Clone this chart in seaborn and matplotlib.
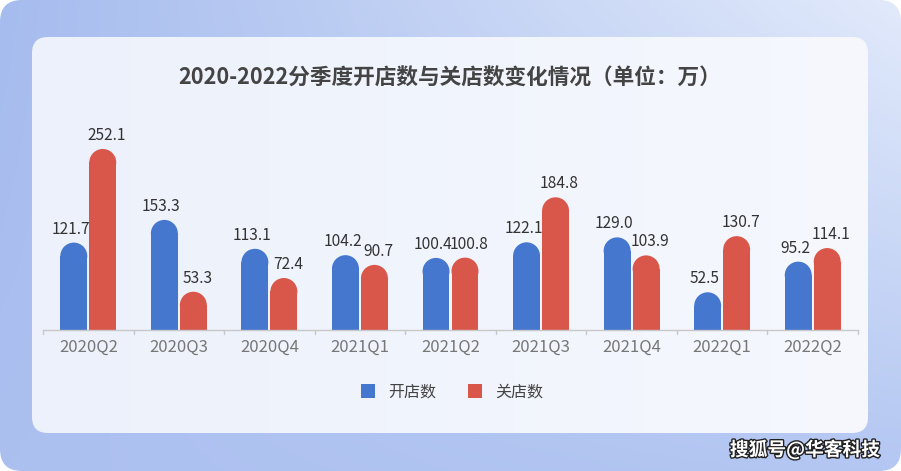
import numpy as np
import pandas as pd
import matplotlib
matplotlib.use("Agg")
import matplotlib.pyplot as plt
import seaborn as sns
from matplotlib.patches import FancyBboxPatch, Ellipse, Patch
import matplotlib.patheffects as pe

quarters = ['2020Q2', '2020Q3', '2020Q4', '2021Q1', '2021Q2', '2021Q3', '2021Q4', '2022Q1', '2022Q2']
open_vals = [121.7, 153.3, 113.1, 104.2, 100.4, 122.1, 129.0, 52.5, 95.2]
close_vals = [252.1, 53.3, 72.4, 90.7, 100.8, 184.8, 103.9, 130.7, 114.1]
series_names = ['开店数', '关店数']
title = '2020-2022分季度开店数与关店数变化情况（单位：万）'
watermark = '搜狐号@华客科技'

colors = ['#4677cf', '#d9574a']

df = pd.DataFrame({
    'quarter': quarters * 2,
    'value': open_vals + close_vals,
    'series': [series_names[0]] * len(quarters) + [series_names[1]] * len(quarters),
})

sns.set_theme(style='white')
plt.rcParams['font.family'] = ['Noto Sans CJK SC', 'DejaVu Sans']

W, H = 901, 471
fig = plt.figure(figsize=(W / 100, H / 100), dpi=100)
fig.patch.set_facecolor('white')

# background axes in pixel coords
bg = fig.add_axes([0, 0, 1, 1])
bg.set_xlim(0, W)
bg.set_ylim(H, 0)
bg.axis('off')

yy, xx = np.mgrid[0:1:H * 1j, 0:1:W * 1j]
tl = np.array([166, 188, 238]) / 255
tr = np.array([226, 234, 251]) / 255
bl = np.array([172, 192, 240]) / 255
br = np.array([180, 199, 242]) / 255
grad = (tl[None, None] * ((1 - xx) * (1 - yy))[..., None]
        + tr[None, None] * (xx * (1 - yy))[..., None]
        + bl[None, None] * ((1 - xx) * yy)[..., None]
        + br[None, None] * (xx * yy)[..., None])
outer = FancyBboxPatch((0, 0), W, H, boxstyle='round,pad=0,rounding_size=22',
                       facecolor='none', edgecolor='none')
bg.add_patch(outer)
im = bg.imshow(grad, extent=(0, W, H, 0), aspect='auto', zorder=0)
im.set_clip_path(outer)

card = FancyBboxPatch((32, 37), 836, 396, boxstyle='round,pad=0,rounding_size=16',
                      facecolor='none', edgecolor='none', zorder=1)
bg.add_patch(card)
c1 = np.array([236, 241, 251]) / 255
c2 = np.array([246, 248, 254]) / 255
cg = c1[None, None] * (1 - xx)[..., None] + c2[None, None] * xx[..., None]
im2 = bg.imshow(cg, extent=(0, W, H, 0), aspect='auto', zorder=1)
im2.set_clip_path(card)

bg.text(450, 78, title, ha='center', va='center', fontsize=15.6, fontweight='bold',
        color='#444444', zorder=3)

bg.text(880, 450, watermark, ha='right', va='center', fontsize=13.5, fontweight='bold',
        color='white', zorder=3,
        path_effects=[pe.withStroke(linewidth=2, foreground='#222222')])

# main axes
ax_left, ax_right, ax_bottom, ax_top = 43, 858, 330, 130
ax = fig.add_axes([ax_left / W, 1 - ax_bottom / H, (ax_right - ax_left) / W, (ax_bottom - ax_top) / H])
ax.set_facecolor('none')

sns.barplot(data=df, x='quarter', y='value', hue='series', palette=colors,
            width=0.64, gap=0.07, saturation=1, legend=False, ax=ax)

ymax = 278.5
ax.set_ylim(0, ymax)
ax.set_xlim(-0.5, len(quarters) - 0.5)

pxx = (ax_right - ax_left) / len(quarters)
pxy = (ax_bottom - ax_top) / ymax

bars = list(ax.patches)
for i, p in enumerate(bars):
    x0, w, h = p.get_x(), p.get_width(), p.get_height()
    ry = (w * pxx / 2) / pxy
    fc = p.get_facecolor()
    p.set_height(h - ry)
    p.set_edgecolor('none')
    p.set_linewidth(0)
    e = Ellipse((x0 + w / 2, h - ry), w, 2 * ry, facecolor=fc, edgecolor='none', linewidth=0)
    ax.add_patch(e)
    cx = x0 + w / 2
    dx = -3 if i < len(quarters) else 4
    ax.annotate(f'{h:.1f}', (cx, h), xytext=(dx, 5), textcoords='offset pixels',
                ha='center', va='bottom', fontsize=11.2, color='#333333')

for s in ['top', 'right', 'left']:
    ax.spines[s].set_visible(False)
ax.spines['bottom'].set_color('#c8c8c8')
ax.spines['bottom'].set_linewidth(1)
ax.set_yticks([])
ax.set_xlabel('')
ax.set_ylabel('')
ax.set_xticks(range(len(quarters)))
ax.set_xticklabels(quarters, fontsize=12, color='#777777')
ax.tick_params(axis='x', length=0, pad=6)
for b in np.arange(-0.5, len(quarters), 1.0):
    ax.plot([b, b], [0, -4 / pxy], color='#c8c8c8', lw=1, clip_on=False)

handles = [Patch(facecolor=c, edgecolor='none') for c in colors]
leg = fig.legend(handles, series_names, loc='center', bbox_to_anchor=(452 / W, 1 - 392 / H),
                 ncol=2, frameon=False, fontsize=11.5, handlelength=0.9, handleheight=0.9,
                 handletextpad=0.8, columnspacing=2.0)
for t in leg.get_texts():
    t.set_color('#444444')

fig.savefig('out.png', dpi=100)
